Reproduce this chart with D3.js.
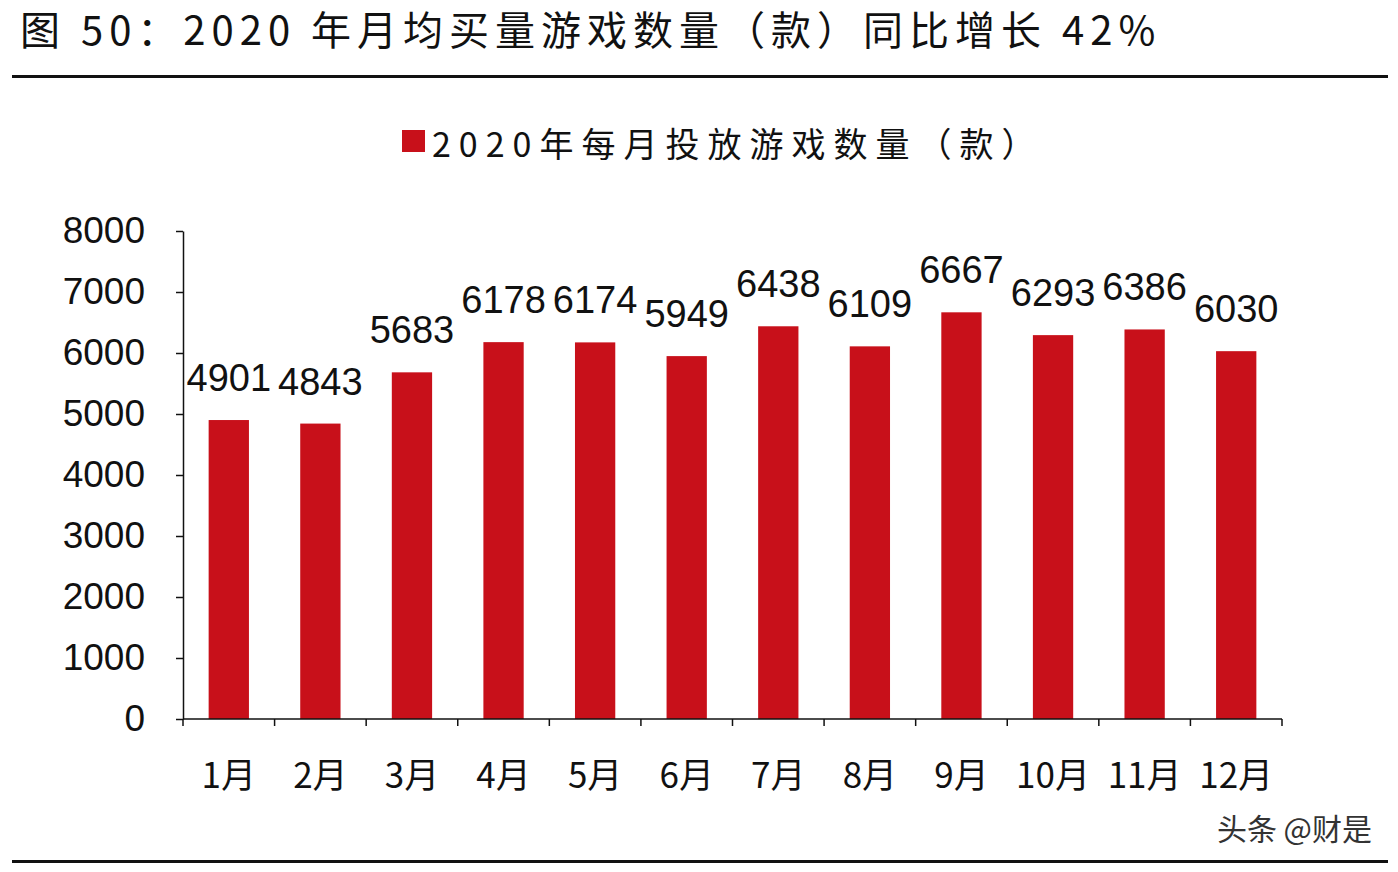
<!DOCTYPE html>
<html><head><meta charset="utf-8">
<script src="https://cdn.jsdelivr.net/npm/d3@7"></script>
<style>body{margin:0;background:#fff}</style></head>
<body><svg id="c" width="1398" height="872"></svg>
<script>
const categories=["1月","2月","3月","4月","5月","6月","7月","8月","9月","10月","11月","12月"];
const values=[4901,4843,5683,6178,6174,5949,6438,6109,6667,6293,6386,6030];
const yTicks=[0,1000,2000,3000,4000,5000,6000,7000,8000];
const seriesName="2020年每月投放游戏数量（款）";
const title="图 50：2020 年月均买量游戏数量（款）同比增长 42%";

const svg=d3.select("#c");
const cjk="'Noto Sans CJK SC','Noto Sans',sans-serif";
const num="'Liberation Sans',Arial,sans-serif";
const red="#c8101a";
svg.append("text").attr("x",20).attr("y",45).attr("font-family",cjk).attr("font-size",40).attr("letter-spacing",6).attr("fill","#111").text(title);
svg.append("rect").attr("x",12).attr("y",75).attr("width",1376).attr("height",3).attr("fill","#111");
svg.append("rect").attr("x",12).attr("y",860).attr("width",1376).attr("height",3).attr("fill","#111");

svg.append("rect").attr("x",402).attr("y",130).attr("width",23).attr("height",22).attr("fill",red);
svg.append("text").attr("x",432).attr("y",157).attr("font-family",cjk).attr("font-size",34).attr("letter-spacing",8).attr("fill","#111").text(seriesName);

const x=d3.scaleBand().domain(categories).range([183,1282]).paddingInner(0.56).paddingOuter(0.28);
const y=d3.scaleLinear().domain([0,8000]).range([719,231]);

const ya=svg.append("g").attr("transform","translate(183,0)").call(d3.axisLeft(y).tickValues(yTicks).tickFormat(d3.format("d")).tickSize(7).tickSizeOuter(0));
ya.selectAll("text").attr("font-family",num).attr("font-size",37).attr("fill","#111").attr("x",-38);
ya.selectAll("line,path").attr("stroke","#111").attr("stroke-width",1.5);

svg.selectAll(".bar").data(values).join("rect").attr("x",(d,i)=>x(categories[i])).attr("width",x.bandwidth())
 .attr("y",d=>y(d)).attr("height",d=>y(0)-y(d)).attr("fill",red);

svg.selectAll(".lbl").data(values).join("text").attr("x",(d,i)=>x(categories[i])+x.bandwidth()/2).attr("y",d=>y(d)-29)
 .attr("text-anchor","middle").attr("font-family",num).attr("font-size",38).attr("fill","#111").text(d=>d);

const xa=svg.append("g").attr("transform","translate(0,719)");
xa.append("line").attr("x1",183).attr("x2",1282).attr("stroke","#111").attr("stroke-width",1.5);
d3.range(13).forEach(i=>{const px=183+i*(1282-183)/12;xa.append("line").attr("x1",px).attr("x2",px).attr("y1",0).attr("y2",7).attr("stroke","#111").attr("stroke-width",1.5);});
svg.selectAll(".xl").data(categories).join("text").attr("x",d=>x(d)+x.bandwidth()/2).attr("y",788)
 .attr("text-anchor","middle").attr("font-family",cjk).attr("font-size",35).attr("fill","#111").text(d=>d);

svg.append("text").attr("x",1372).attr("y",840).attr("text-anchor","end").attr("font-family",cjk).attr("font-size",30).attr("fill","#333").text("头条 @财是");
</script></body></html>
